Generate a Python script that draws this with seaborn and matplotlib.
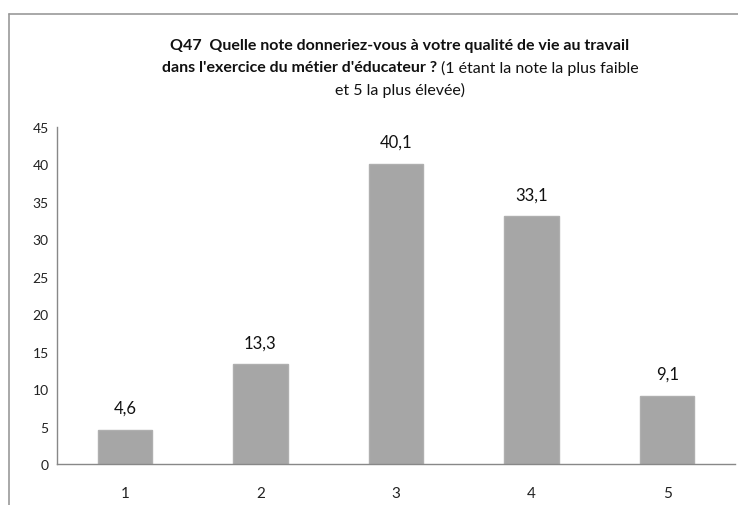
import numpy as np
import matplotlib
matplotlib.use("Agg")
import matplotlib.pyplot as plt
import seaborn as sns
from matplotlib.lines import Line2D

categories = ["1", "2", "3", "4", "5"]
values = [4.6, 13.3, 40.1, 33.1, 9.1]
value_labels = ["4,6", "13,3", "40,1", "33,1", "9,1"]
y_ticks = [0, 5, 10, 15, 20, 25, 30, 35, 40, 45]

sns.set_style("white")
plt.rcParams["font.family"] = ["Lato", "DejaVu Sans"]

fig = plt.figure(figsize=(7.38, 5.06), dpi=100)
ax = fig.add_axes([57 / 738, 1 - 465 / 506, (735 - 57) / 738, (465 - 128) / 506])

sns.barplot(x=categories, y=values, color="#a6a6a6", width=0.4, saturation=1,
            edgecolor="#afafaf", linewidth=1.0, ax=ax)

ax.set_ylim(0, 45)
ax.set_xlim(-0.5, 4.5)
ax.set_yticks(y_ticks)
ax.set_yticklabels([str(t) for t in y_ticks], fontsize=10, color="#222222")
ax.set_xticks(range(5))
ax.set_xticklabels(categories, fontsize=11, color="#222222")
ax.set_xticks(np.arange(-0.5, 5, 1), minor=True)
ax.tick_params(axis="x", which="major", length=0, pad=16)
ax.tick_params(axis="x", which="minor", length=5, color="#888888", width=1, direction="out")
ax.tick_params(axis="y", length=4, color="#888888", width=1, direction="out", pad=2)
ax.set_xlabel("")
ax.set_ylabel("")
for s in ["top", "right"]:
    ax.spines[s].set_visible(False)
for s in ["left", "bottom"]:
    ax.spines[s].set_color("#888888")
    ax.spines[s].set_linewidth(1)

for i, (v, lab) in enumerate(zip(values, value_labels)):
    ax.annotate(lab, (i, v), xytext=(0, 10), textcoords="offset points",
                ha="center", va="bottom", fontsize=12, color="#111111")

# outer frame of the chart area
fig.add_artist(Line2D([9 / 738, 9 / 738], [0, 1 - 15 / 506], color="#999999", lw=1.2))
fig.add_artist(Line2D([9 / 738, 1], [1 - 15 / 506, 1 - 15 / 506], color="#999999", lw=1.2))

# title, mixed bold / normal
cx = 400 / 738
fs = 11.5
fig.text(cx, 1 - 46 / 506, "Q47  Quelle note donneriez-vous à votre qualité de vie au travail",
         ha="center", va="center", fontsize=fs, fontweight="bold", color="#111111")
fig.canvas.draw()
r = fig.canvas.get_renderer()
t_bold = fig.text(0, 1 - 68 / 506, "dans l'exercice du métier d'éducateur ? ",
                  ha="left", va="center", fontsize=fs, fontweight="bold", color="#111111")
t_norm = fig.text(0, 1 - 68 / 506, "(1 étant la note la plus faible",
                  ha="left", va="center", fontsize=fs, color="#111111")
wb = t_bold.get_window_extent(r).width / fig.bbox.width
wn = t_norm.get_window_extent(r).width / fig.bbox.width
x0 = cx - (wb + wn) / 2
t_bold.set_x(x0)
t_norm.set_x(x0 + wb)
fig.text(cx, 1 - 90 / 506, "et 5 la plus élevée)",
         ha="center", va="center", fontsize=fs, color="#111111")

fig.savefig("out.png", dpi=100)
